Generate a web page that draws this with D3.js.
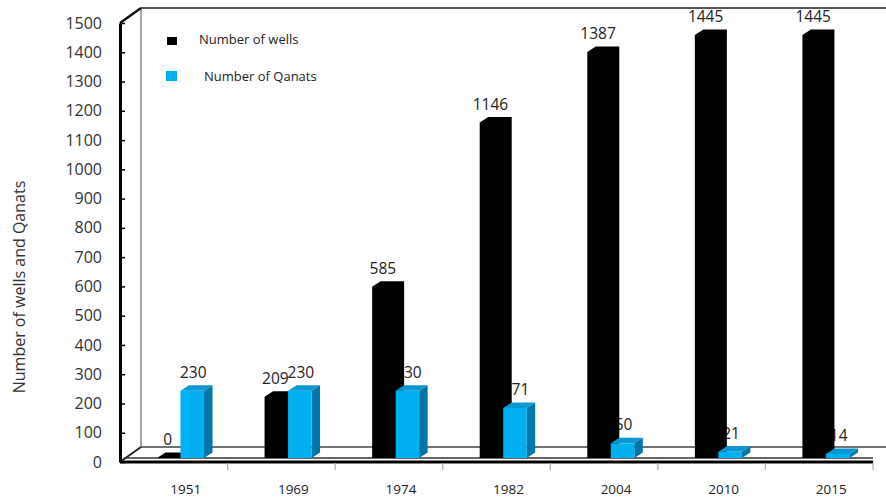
<!DOCTYPE html>
<html>
<head>
<meta charset="utf-8">
<script src="https://cdn.jsdelivr.net/npm/d3@7"></script>
<style>
  html, body { margin: 0; padding: 0; background: #fff; }
  svg { display: block; font-family: "Open Sans", "Noto Sans", sans-serif; }
</style>
</head>
<body>
<svg id="chart" width="886" height="501"></svg>
<script>
// Wells and qanats counted per survey year
const years = ["1951", "1969", "1974", "1982", "2004", "2010", "2015"];
const wells = [0, 209, 585, 1146, 1387, 1445, 1445];
const qanats = [230, 230, 230, 171, 50, 21, 14];
const yTickValues = [0, 100, 200, 300, 400, 500, 600, 700, 800, 900, 1000, 1100, 1200, 1300, 1400, 1500];
const seriesNames = ["Number of wells", "Number of Qanats"];

const svg = d3.select("#chart");

// frame geometry (front plane and back wall of the 3-D box)
const frontLeft = 120, frontRight = 873;
const floorFront = 462, plotTop = 23;
const wallDx = 21, wallDy = 15;
const barBase = 458;          // bars stand on the top surface of the floor slab
const depthDx = 8.5, depthDy = 5.5;

const x0 = d3.scaleBand().domain(years).range([frontLeft, frontRight]).padding(0);
const x1 = d3.scaleBand().domain(["wells", "qanats"]).range([37, 84]).padding(0);
const y = d3.scaleLinear().domain([0, 1500]).range([floorFront, plotTop]);
const barTop = v => y(v) - (floorFront - barBase);

// ---- walls and floor ----
const frame = svg.append("g");
// back wall outline
frame.append("line").attr("x1", frontLeft + wallDx).attr("y1", plotTop - wallDy)
  .attr("x2", 886).attr("y2", plotTop - wallDy).attr("stroke", "#555").attr("stroke-width", 2);
frame.append("line").attr("x1", frontLeft + wallDx).attr("y1", plotTop - wallDy)
  .attr("x2", frontLeft + wallDx).attr("y2", floorFront - wallDy).attr("stroke", "#666").attr("stroke-width", 1.2);
frame.append("line").attr("x1", frontLeft + wallDx).attr("y1", floorFront - wallDy)
  .attr("x2", 886).attr("y2", floorFront - wallDy).attr("stroke", "#444").attr("stroke-width", 1.3);
// side wall diagonals
frame.append("line").attr("x1", frontLeft).attr("y1", plotTop)
  .attr("x2", frontLeft + wallDx).attr("y2", plotTop - wallDy).attr("stroke", "#111").attr("stroke-width", 2.5);
frame.append("line").attr("x1", frontLeft).attr("y1", floorFront)
  .attr("x2", frontLeft + wallDx).attr("y2", floorFront - wallDy).attr("stroke", "#222").attr("stroke-width", 2);
// floor slab front edges
frame.append("line").attr("x1", frontLeft + 4).attr("y1", barBase)
  .attr("x2", frontRight).attr("y2", barBase).attr("stroke", "#333").attr("stroke-width", 1.3);
frame.append("line").attr("x1", frontLeft).attr("y1", floorFront)
  .attr("x2", frontRight).attr("y2", floorFront).attr("stroke", "#000").attr("stroke-width", 3);

// ---- y axis ----
const yAxis = d3.axisLeft(y).tickValues(yTickValues).tickFormat(d3.format("d"))
  .tickSizeInner(-5).tickSizeOuter(0).tickPadding(18);
const gy = svg.append("g").attr("transform", `translate(${frontLeft},0)`).call(yAxis);
gy.select(".domain").attr("stroke", "#000").attr("stroke-width", 3);
gy.selectAll(".tick line").attr("stroke", "#000").attr("stroke-width", 1.5);
gy.selectAll(".tick text").attr("font-size", 16).attr("fill", "#333")
  .attr("font-family", "'Open Sans', sans-serif");

// ---- x axis: category boundary ticks and year labels ----
const boundaries = years.slice(1).map(d => x0(d)).concat([frontRight]);
svg.append("g").selectAll("line").data(boundaries).join("line")
  .attr("x1", d => d).attr("x2", d => d)
  .attr("y1", floorFront + 1).attr("y2", floorFront + 8)
  .attr("stroke", "#aaa").attr("stroke-width", 1.2);
const xAxis = d3.axisBottom(x0).tickSize(0).tickPadding(0);
const gx = svg.append("g").attr("transform", `translate(12,${floorFront + 22})`).call(xAxis);
gx.select(".domain").remove();
gx.selectAll(".tick text").attr("font-size", 13.5).attr("fill", "#222")
  .attr("font-family", "'Open Sans', sans-serif");

// axis title
svg.append("text")
  .attr("transform", "translate(21,287) rotate(-90)")
  .attr("text-anchor", "middle").attr("dominant-baseline", "middle")
  .attr("font-size", 16).attr("fill", "#333")
  .text("Number of wells and Qanats");

// ---- bars ----
const rows = years.map((yr, i) => ({ year: yr, wells: wells[i], qanats: qanats[i] }));
const labelFont = 15.5, labelGap = 13;

// Qanat value labels sit behind the wells bars
svg.append("g").selectAll("text").data(rows).join("text")
  .attr("x", d => x0(d.year) + x1("qanats") + x1.bandwidth() / 2 + 1)
  .attr("y", d => barTop(d.qanats) - labelGap)
  .attr("text-anchor", "middle").attr("font-size", labelFont).attr("fill", "#222")
  .text(d => d.qanats);

// wells: solid black prism (front, top and side faces all black)
svg.append("g").selectAll("path").data(rows).join("path")
  .attr("d", d => {
    const xa = x0(d.year) + x1("wells"), xb = xa + x1.bandwidth();
    const t = barTop(d.wells);
    return `M${xa},${barBase}L${xa},${t}L${xa + depthDx},${t - depthDy}L${xb + depthDx},${t - depthDy}` +
      `L${xb + depthDx},${barBase - depthDy}L${xb},${barBase}Z`;
  })
  .attr("fill", "#000");

// qanats: shaded blue prism
const qg = svg.append("g").selectAll("g").data(rows).join("g");
qg.append("path") // side face
  .attr("d", d => {
    const xb = x0(d.year) + x1("qanats") + x1.bandwidth();
    const t = barTop(d.qanats);
    return `M${xb},${barBase}L${xb},${t}L${xb + depthDx},${t - depthDy}L${xb + depthDx},${barBase - depthDy}Z`;
  })
  .attr("fill", "#0076a8");
qg.append("path") // top face
  .attr("d", d => {
    const xa = x0(d.year) + x1("qanats"), xb = xa + x1.bandwidth();
    const t = barTop(d.qanats);
    return `M${xa},${t}L${xa + depthDx},${t - depthDy}L${xb + depthDx},${t - depthDy}L${xb},${t}Z`;
  })
  .attr("fill", "#0a98d2");
qg.append("rect") // front face
  .attr("x", d => x0(d.year) + x1("qanats"))
  .attr("y", d => barTop(d.qanats))
  .attr("width", x1.bandwidth())
  .attr("height", d => barBase - barTop(d.qanats))
  .attr("fill", "#00b0f0");

// wells value labels
svg.append("g").selectAll("text").data(rows).join("text")
  .attr("x", d => x0(d.year) + x1("wells") + x1.bandwidth() / 2 - 1)
  .attr("y", d => barTop(d.wells) - labelGap)
  .attr("text-anchor", "middle").attr("font-size", labelFont).attr("fill", "#222")
  .text(d => d.wells);

// ---- legend ----
const legend = svg.append("g");
const legendItems = [
  { name: seriesNames[0], color: "#000", x: 167, y: 37, w: 10, h: 8, tx: 199, ty: 41 },
  { name: seriesNames[1], color: "#00b0f0", x: 166, y: 71, w: 11, h: 10, tx: 204, ty: 78 }
];
legend.selectAll("rect").data(legendItems).join("rect")
  .attr("x", d => d.x).attr("y", d => d.y).attr("width", d => d.w).attr("height", d => d.h)
  .attr("fill", d => d.color);
legend.selectAll("text").data(legendItems).join("text")
  .attr("x", d => d.tx).attr("y", d => d.ty)
  .attr("dominant-baseline", "middle").attr("font-size", 13).attr("fill", "#222")
  .text(d => d.name);
</script>
</body>
</html>
